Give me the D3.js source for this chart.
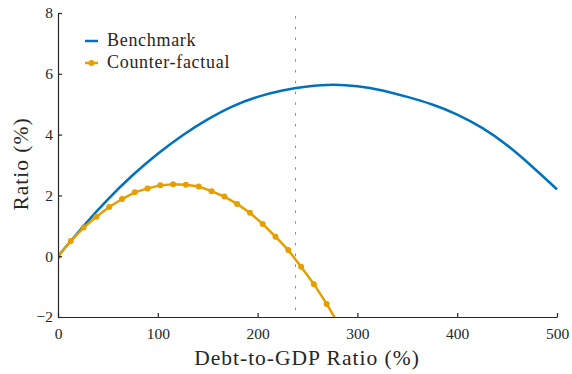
<!DOCTYPE html>
<html>
<head>
<meta charset="utf-8">
<script src="https://cdn.jsdelivr.net/npm/d3@7"></script>
<style>
  body { margin: 0; background: #fff; }
</style>
</head>
<body>
<div id="chart"></div>
<script>
// benchmark: smooth line, read every 25 units
const benchX = [0, 25, 50, 75, 100, 125, 150, 175, 200, 225, 250, 275, 300, 325, 350, 375, 400, 425, 450, 475, 500];
const benchY = [0, 0.97, 1.87, 2.67, 3.37, 3.98, 4.5, 4.93, 5.24, 5.45, 5.58, 5.64, 5.59, 5.45, 5.24, 4.99, 4.66, 4.22, 3.65, 2.95, 2.2];

// counter-factual: markers on a 500/39 grid
const cfX = d3.range(0, 23).map(k => k * 500 / 39);
const cfY = [0, 0.5, 0.94, 1.3, 1.62, 1.88, 2.1, 2.23, 2.33, 2.37, 2.35, 2.29, 2.14, 1.96, 1.72, 1.43, 1.06, 0.64, 0.2, -0.35, -0.92, -1.57, -2.29];

const thresholdX = 238;
const xTicks = [0, 100, 200, 300, 400, 500];
const yTicks = [-2, 0, 2, 4, 6, 8];
const seriesNames = ['Benchmark', 'Counter-factual'];
const colors = ['#0072BD', '#E69F00'];

const FONT = '"Liberation Serif"';
const INK = '#262626';

const width = 572, height = 374;
const margin = { top: 13, right: 15, bottom: 57, left: 58 };
const innerW = width - margin.left - margin.right;
const innerH = height - margin.top - margin.bottom;

const svg = d3.select('#chart').append('svg')
  .attr('width', width)
  .attr('height', height);

const g = svg.append('g')
  .attr('transform', `translate(${margin.left},${margin.top})`);

const x = d3.scaleLinear().domain([0, 500]).range([0, innerW]);
const y = d3.scaleLinear().domain([-2, 8]).range([innerH, 0]);

svg.append('defs').append('clipPath').attr('id', 'plot-clip')
  .append('rect').attr('x', 0).attr('y', -5).attr('width', innerW + 5).attr('height', innerH + 5);

// threshold line
g.append('line')
  .attr('x1', x(thresholdX)).attr('x2', x(thresholdX))
  .attr('y1', 3).attr('y2', innerH)
  .attr('stroke', '#8c8c8c')
  .attr('stroke-width', 1)
  .attr('stroke-dasharray', '2.5,8.3');

const line = d3.line().x(d => x(d[0])).y(d => y(d[1]));
const curve = d3.line().curve(d3.curveNatural).x(d => x(d[0])).y(d => y(d[1]));

const plot = g.append('g').attr('clip-path', 'url(#plot-clip)');

plot.append('path')
  .datum(d3.zip(benchX, benchY))
  .attr('d', curve)
  .attr('fill', 'none')
  .attr('stroke', colors[0])
  .attr('stroke-width', 2.5);

const cf = d3.zip(cfX, cfY);
plot.append('path')
  .datum(cf)
  .attr('d', line)
  .attr('fill', 'none')
  .attr('stroke', colors[1])
  .attr('stroke-width', 2.5);

plot.selectAll('.cf-dot')
  .data(cf)
  .join('circle')
  .attr('class', 'cf-dot')
  .attr('cx', d => x(d[0]))
  .attr('cy', d => y(d[1]))
  .attr('r', 3)
  .attr('fill', colors[1]);

// axes, ticks pointing inward
const xAxis = g.append('g')
  .attr('transform', `translate(0,${innerH})`)
  .call(d3.axisBottom(x).tickValues(xTicks).tickSizeInner(-4).tickSizeOuter(0).tickPadding(11));

const yAxis = g.append('g')
  .call(d3.axisLeft(y).tickValues(yTicks).tickSizeInner(-4).tickSizeOuter(0).tickPadding(5));

[xAxis, yAxis].forEach(a => {
  a.attr('font-family', null);
  a.select('.domain').attr('stroke', INK).attr('stroke-width', 1.2);
  a.selectAll('.tick line').attr('stroke', INK).attr('stroke-width', 1.2);
  a.selectAll('.tick text')
    .style('font-family', FONT)
    .style('font-size', '15.5px')
    .attr('fill', INK);
});

// axis titles
svg.append('text')
  .attr('x', 307)
  .attr('y', 365)
  .attr('text-anchor', 'middle')
  .style('font-family', FONT)
  .style('font-size', '21.5px')
  .style('letter-spacing', '1px')
  .attr('fill', INK)
  .text('Debt-to-GDP Ratio (%)');

svg.append('text')
  .attr('transform', 'translate(28,164) rotate(-90)')
  .attr('text-anchor', 'middle')
  .style('font-family', FONT)
  .style('font-size', '21.5px')
  .style('letter-spacing', '1px')
  .attr('fill', INK)
  .text('Ratio (%)');

// legend
const legend = svg.append('g').attr('transform', 'translate(85,41)');
seriesNames.forEach((name, i) => {
  const row = legend.append('g').attr('transform', `translate(0,${i * 22})`);
  row.append('line')
    .attr('x1', 0).attr('x2', 13)
    .attr('stroke', colors[i])
    .attr('stroke-width', 2.5);
  if (i === 1) {
    row.append('circle').attr('cx', 6.5).attr('r', 3).attr('fill', colors[i]);
  }
  row.append('text')
    .attr('x', 22)
    .attr('y', 5)
    .style('font-family', FONT)
    .style('font-size', '18px')
    .style('letter-spacing', '0.7px')
    .attr('fill', INK)
    .text(name);
});
</script>
</body>
</html>
